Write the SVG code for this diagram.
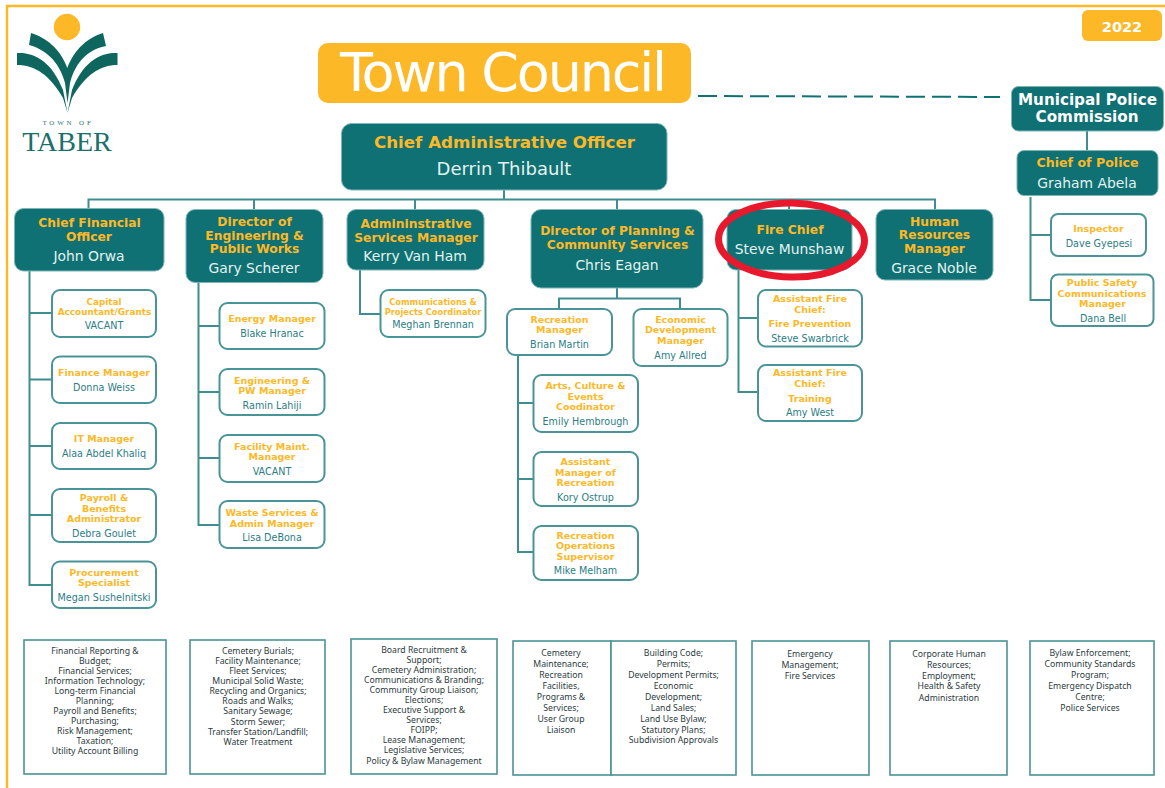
<svg xmlns="http://www.w3.org/2000/svg" width="1165" height="788" viewBox="0 0 1165 788">
<style>
text{font-family:"DejaVu Sans","Liberation Sans",sans-serif;text-anchor:middle}
.dark{fill:#0f7173;stroke:#7fb5b6;stroke-width:1}
.soft{fill:#fff;stroke:#4a9396;stroke-width:2}
.duty{fill:#fff;stroke:#4a9396;stroke-width:1.6}
.lines{fill:none;stroke:#3f8d90;stroke-width:2}
.lt{font-weight:700;font-size:12.3px;fill:#fdb827}
.ln{font-size:13.9px;fill:#e4f1f1}
.st{font-weight:700;font-size:9.5px;fill:#fdb827}
.sn{font-size:9.6px;fill:#2b7d85}
.d{font-family:"Noto Sans","DejaVu Sans",sans-serif;font-size:8.7px;fill:#2c3b40}
.b{font-weight:700;fill:#fff}
</style>
<path d="M7 788V6H1165" fill="none" stroke="#fdb827" stroke-width="2.4"/>
<g id="logo">
<circle cx="67" cy="27" r="13.2" fill="#fdb827"/>
<path fill="#0f665f" d="M31 33C46 38 60 48 67.300 68C75 48 88 38 103 33L106 46C90 49 76 60 70 83L67.500 103L65 83C59 60 44 49 29 45Z"/>
<path fill="#0f665f" d="M17 53C35 52 52 62 63 90L67.500 113L72 90C83 62 100 52 117.500 53L117.500 65C100 65 85 75 72 98L67.500 113L63 98C50 75 35 65 17 65Z"/>
<text x="68" y="125" style="font-family:'Liberation Serif',serif;font-size:7px;letter-spacing:2.800px;fill:#2f7370">TOWN OF</text>
<text x="67" y="150.500" style="font-family:'Liberation Serif',serif;font-size:28px;fill:#1c6f6b">TABER</text>
</g>
<g id="connectors" class="lines">
<path d="M504 190V199.500M88.500 208V199.500H935V209M254 199.500V209M415 199.500V209M617 199.500V209M789 199.500V209"/>
<path d="M29.500 271V585H52M29.500 313H52M29.500 379.500H52M29.500 446H52M29.500 515H52"/>
<path d="M198.500 282V525H219M198.500 326H219M198.500 392H219M198.500 458H219"/>
<path d="M360 270V314H380"/>
<path d="M617 288V298.500M559 309V298.500H680V309"/>
<path d="M518 355V552H533M518 403H533M518 479H533"/>
<path d="M738.500 270V392H758M738.500 318H758"/>
<path d="M1087 131V150M1030.500 197V300H1051M1030.500 235H1051"/>
<path d="M698 96L1000 97" stroke="#0f7173" stroke-dasharray="19 7"/>
</g>
<g id="year"><rect x="1082" y="10" width="80" height="31" rx="6" fill="#fdb827"/><text x="1122" y="32" class="b" style="font-size:14.500px">2022</text></g>
<g id="town-council"><rect x="318" y="43" width="373" height="60" rx="10" fill="#fdb827"/><text x="503.500" y="91" textLength="327" style="font-size:54px;fill:#fff">Town Council</text></g>
<g id="police-commission"><rect class="dark" x="1011.500" y="86.500" width="152" height="44.500" rx="7"/><text x="1087.500" y="105" class="b" style="font-size:15.200px">Municipal Police</text><text x="1087" y="122" class="b" style="font-size:15.200px">Commission</text></g>
<g id="police-chief"><rect class="dark" x="1017" y="150.500" width="141" height="45" rx="7"/><text x="1087.500" y="167" class="lt" style="font-size:12.600px">Chief of Police</text><text x="1087" y="188" class="ln">Graham Abela</text></g>
<g id="inspector"><rect class="soft" x="1051" y="214" width="95" height="42" rx="7"/><text x="1098.500" y="232" class="st">Inspector</text><text x="1099" y="247" class="sn">Dave Gyepesi</text></g>
<g id="public-safety"><rect class="soft" x="1051" y="274.500" width="102.500" height="51.500" rx="7"/><text x="1102" y="286" class="st">Public Safety</text><text x="1102" y="296.500" class="st">Communications</text><text x="1102.500" y="307" class="st">Manager</text><text x="1103" y="322" class="sn">Dana Bell</text></g>
<g id="cao"><rect class="dark" x="341.500" y="123.500" width="325.500" height="66.500" rx="10"/><text x="504.500" y="148" class="lt" style="font-size:16.700px">Chief Administrative Officer</text><text x="504" y="175" class="ln" style="font-size:18px">Derrin Thibault</text></g>
<g id="cfo"><rect class="dark" x="14.500" y="208.500" width="149.500" height="62.500" rx="9"/><text x="89.500" y="227" class="lt">Chief Financial</text><text x="89" y="241" class="lt">Officer</text><text x="89" y="261" class="ln">John Orwa</text></g>
<g id="engineering"><rect class="dark" x="186" y="209.500" width="137" height="73" rx="9"/><text x="254.500" y="226" class="lt">Director of</text><text x="254.500" y="240" class="lt">Engineering &amp;</text><text x="254.500" y="253" class="lt">Public Works</text><text x="254" y="273" class="ln">Gary Scherer</text></g>
<g id="admin"><rect class="dark" x="347" y="209.500" width="137" height="60.500" rx="9"/><text x="416" y="228" class="lt">Admininstrative</text><text x="416" y="242" class="lt">Services Manager</text><text x="415" y="261" class="ln">Kerry Van Ham</text></g>
<g id="planning"><rect class="dark" x="531" y="209.500" width="172" height="78.500" rx="10"/><text x="617.500" y="235" class="lt">Director of Planning &amp;</text><text x="617.500" y="249" class="lt">Community Services</text><text x="617" y="270" class="ln">Chris Eagan</text></g>
<g id="fire-chief"><rect class="dark" x="727" y="209.500" width="125" height="60.500" rx="9"/><text x="790" y="234" class="lt">Fire Chief</text><text x="789.500" y="254" class="ln">Steve Munshaw</text></g>
<g id="hr"><rect class="dark" x="876" y="209.500" width="117" height="70.500" rx="9"/><text x="934.500" y="226" class="lt">Human</text><text x="934.500" y="239" class="lt">Resources</text><text x="934.500" y="253" class="lt">Manager</text><text x="934" y="273" class="ln">Grace Noble</text></g>
<ellipse id="highlight" cx="791.500" cy="240" rx="73" ry="37" fill="none" stroke="#e8192c" stroke-width="7" transform="rotate(1 791 240)"/>
<g id="capital"><rect class="soft" x="52" y="290" width="104" height="47" rx="8"/><text x="104" y="305" class="st" style="font-size:8.900px">Capital</text><text x="104.500" y="314.500" class="st" style="font-size:8.900px">Accountant/Grants</text><text x="104" y="329" class="sn">VACANT</text></g>
<g id="finance"><rect class="soft" x="52" y="356.500" width="104" height="46.500" rx="8"/><text x="104" y="376" class="st">Finance Manager</text><text x="104" y="391" class="sn">Donna Weiss</text></g>
<g id="it"><rect class="soft" x="52" y="423" width="104" height="46" rx="8"/><text x="104" y="442" class="st">IT Manager</text><text x="104" y="457" class="sn">Alaa Abdel Khaliq</text></g>
<g id="payroll"><rect class="soft" x="52" y="489" width="104" height="53" rx="8"/><text x="104" y="501" class="st">Payroll &amp;</text><text x="104" y="512" class="st">Benefits</text><text x="104" y="522" class="st">Administrator</text><text x="104" y="537" class="sn">Debra Goulet</text></g>
<g id="procurement"><rect class="soft" x="52" y="561.500" width="104" height="46.500" rx="8"/><text x="104" y="576" class="st">Procurement</text><text x="104" y="586" class="st">Specialist</text><text x="104" y="601" class="sn">Megan Sushelnitski</text></g>
<g id="energy"><rect class="soft" x="219.500" y="303" width="105" height="46" rx="8"/><text x="272" y="322" class="st">Energy Manager</text><text x="272" y="337" class="sn">Blake Hranac</text></g>
<g id="eng-pw"><rect class="soft" x="219.500" y="369" width="105" height="46" rx="8"/><text x="272" y="383.500" class="st">Engineering &amp;</text><text x="272" y="394" class="st">PW Manager</text><text x="272" y="408.500" class="sn">Ramin Lahiji</text></g>
<g id="facility"><rect class="soft" x="219.500" y="435" width="105" height="47" rx="8"/><text x="272" y="449.500" class="st">Facility Maint.</text><text x="272" y="460" class="st">Manager</text><text x="272" y="474.500" class="sn">VACANT</text></g>
<g id="waste"><rect class="soft" x="219.500" y="501" width="105" height="47" rx="8"/><text x="272" y="515.500" class="st">Waste Services &amp;</text><text x="272" y="526.500" class="st">Admin Manager</text><text x="272" y="541" class="sn">Lisa DeBona</text></g>
<g id="communications"><rect class="soft" x="380.500" y="290" width="105" height="47" rx="8"/><text x="433" y="305" class="st" style="font-size:8.300px">Communications &amp;</text><text x="433" y="314.500" class="st" style="font-size:8.300px">Projects Coordinator</text><text x="433" y="328" class="sn">Meghan Brennan</text></g>
<g id="recreation-manager"><rect class="soft" x="507" y="309" width="105" height="46" rx="8"/><text x="559.500" y="322.500" class="st">Recreation</text><text x="559.500" y="333" class="st">Manager</text><text x="559.500" y="347.500" class="sn">Brian Martin</text></g>
<g id="economic"><rect class="soft" x="633.500" y="309" width="94" height="57" rx="8"/><text x="680.500" y="322.500" class="st">Economic</text><text x="680.500" y="333" class="st">Development</text><text x="680.500" y="343.500" class="st">Manager</text><text x="680.500" y="358.500" class="sn">Amy Allred</text></g>
<g id="arts"><rect class="soft" x="533.500" y="375" width="104.500" height="57" rx="8"/><text x="585.500" y="389" class="st">Arts, Culture &amp;</text><text x="585.500" y="400" class="st">Events</text><text x="585.500" y="410" class="st">Coodinator</text><text x="585.500" y="425" class="sn">Emily Hembrough</text></g>
<g id="assistant-rec"><rect class="soft" x="533.500" y="452" width="104.500" height="54" rx="8"/><text x="585.500" y="465" class="st">Assistant</text><text x="585.500" y="475.500" class="st">Manager of</text><text x="585.500" y="486" class="st">Recreation</text><text x="585.500" y="500.500" class="sn">Kory Ostrup</text></g>
<g id="rec-ops"><rect class="soft" x="533.500" y="526" width="104.500" height="54" rx="8"/><text x="585.500" y="538.500" class="st">Recreation</text><text x="585.500" y="549" class="st">Operations</text><text x="585.500" y="559.500" class="st">Supervisor</text><text x="585.500" y="574" class="sn">Mike Melham</text></g>
<g id="fire-prevention"><rect class="soft" x="758" y="290" width="104" height="56.500" rx="8"/><text x="810" y="302" class="st">Assistant Fire</text><text x="810" y="312.500" class="st">Chief:</text><text x="810" y="327" class="st">Fire Prevention</text><text x="810" y="341.500" class="sn">Steve Swarbrick</text></g>
<g id="fire-training"><rect class="soft" x="758" y="365" width="104" height="56" rx="8"/><text x="810" y="376" class="st">Assistant Fire</text><text x="810" y="387" class="st">Chief:</text><text x="810" y="402" class="st">Training</text><text x="810" y="416" class="sn">Amy West</text></g>
<g id="duties-finance"><rect class="duty" x="24" y="640" width="142" height="134"/><text class="d" x="95" y="654">Financial Reporting &amp;</text><text class="d" x="95" y="664">Budget;</text><text class="d" x="95" y="674">Financial Services;</text><text class="d" x="95" y="684">Information Technology;</text><text class="d" x="95" y="694">Long-term Financial</text><text class="d" x="95" y="704">Planning;</text><text class="d" x="95" y="714">Payroll and Benefits;</text><text class="d" x="95" y="724">Purchasing;</text><text class="d" x="95" y="734">Risk Management;</text><text class="d" x="95" y="744">Taxation;</text><text class="d" x="95" y="754">Utility Account Billing</text></g>
<g id="duties-engineering"><rect class="duty" x="190" y="640" width="135" height="134"/><text class="d" x="258" y="654">Cemetery Burials;</text><text class="d" x="258" y="664">Facility Maintenance;</text><text class="d" x="258" y="674">Fleet Services;</text><text class="d" x="258" y="684">Municipal Solid Waste;</text><text class="d" x="258" y="694">Recycling and Organics;</text><text class="d" x="258" y="704">Roads and Walks;</text><text class="d" x="258" y="714">Sanitary Sewage;</text><text class="d" x="258" y="724.500">Storm Sewer;</text><text class="d" x="258" y="735">Transfer Station/Landfill;</text><text class="d" x="258" y="745">Water Treatment</text></g>
<g id="duties-admin"><rect class="duty" x="351" y="639" width="146" height="135"/><text class="d" x="424" y="653">Board Recruitment &amp;</text><text class="d" x="424" y="663">Support;</text><text class="d" x="424" y="673">Cemetery Administration;</text><text class="d" x="424" y="683">Communications &amp; Branding;</text><text class="d" x="424" y="693">Community Group Liaison;</text><text class="d" x="424" y="703">Elections;</text><text class="d" x="424" y="713">Executive Support &amp;</text><text class="d" x="424" y="723">Services;</text><text class="d" x="424" y="733">FOIPP;</text><text class="d" x="424" y="743">Lease Management;</text><text class="d" x="424" y="753">Legislative Services;</text><text class="d" x="424" y="763.500">Policy &amp; Bylaw Management</text></g>
<g id="duties-recreation"><rect class="duty" x="513" y="641" width="98" height="134"/><text class="d" x="561" y="655.500">Cemetery</text><text class="d" x="561" y="666.500">Maintenance;</text><text class="d" x="561" y="677.500">Recreation</text><text class="d" x="561" y="688.500">Facilities,</text><text class="d" x="561" y="699.500">Programs &amp;</text><text class="d" x="561" y="710.500">Services;</text><text class="d" x="561" y="721.500">User Group</text><text class="d" x="561" y="732.500">Liaison</text></g>
<g id="duties-planning"><rect class="duty" x="611" y="641" width="125" height="134"/><text class="d" x="673.500" y="655.500">Building Code;</text><text class="d" x="673.500" y="666.500">Permits;</text><text class="d" x="673.500" y="677.500">Development Permits;</text><text class="d" x="673.500" y="688.500">Economic</text><text class="d" x="673.500" y="699.500">Development;</text><text class="d" x="673.500" y="710.500">Land Sales;</text><text class="d" x="673.500" y="721.500">Land Use Bylaw;</text><text class="d" x="673.500" y="732.500">Statutory Plans;</text><text class="d" x="673.500" y="743">Subdivision Approvals</text></g>
<g id="duties-fire"><rect class="duty" x="752" y="641" width="117" height="134"/><text class="d" x="810" y="656.500">Emergency</text><text class="d" x="810" y="667.500">Management;</text><text class="d" x="810" y="678.500">Fire Services</text></g>
<g id="duties-hr"><rect class="duty" x="890" y="641" width="117" height="134"/><text class="d" x="949" y="656.500">Corporate Human</text><text class="d" x="949" y="667.500">Resources;</text><text class="d" x="949" y="678.500">Employment;</text><text class="d" x="949" y="689">Health &amp; Safety</text><text class="d" x="949" y="700.500">Administration</text></g>
<g id="duties-police"><rect class="duty" x="1030" y="641" width="124" height="134"/><text class="d" x="1090" y="655.500">Bylaw Enforcement;</text><text class="d" x="1090" y="666.500">Community Standards</text><text class="d" x="1090" y="677.500">Program;</text><text class="d" x="1090" y="688.500">Emergency Dispatch</text><text class="d" x="1090" y="699.500">Centre;</text><text class="d" x="1090" y="710.500">Police Services</text></g>
</svg>
